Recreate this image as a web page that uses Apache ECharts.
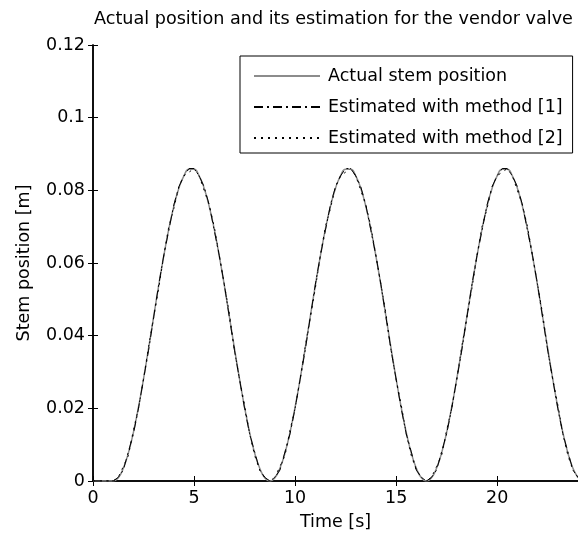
<!DOCTYPE html>
<html lang="en">
<head>
    <meta charset="UTF-8">
    <title>Vendor valve</title>
    <script src="https://cdn.jsdelivr.net/npm/echarts@6/dist/echarts.min.js"></script>
</head>
<body style="margin: 0;background: #fff">
<div id="chart" style="width: 578px;height: 537px"></div>
</body>

<script>
    // time axis, 0.25 s steps
    let time = [];
    for (let i = 0; i <= 96; i++) time.push(i * 0.25);

    // actual stem position [m]
    let actual = [
        0, 0, 0, 0,
        0, 0.0009, 0.0035, 0.0077, 0.0134, 0.0203, 0.0281, 0.0365, 0.0452, 0.0538, 0.0619, 0.0693, 0.0756, 0.0806, 0.0840, 0.0858,
        0.0858, 0.0840, 0.0806, 0.0756, 0.0693, 0.0619, 0.0538, 0.0452, 0.0365, 0.0281, 0.0203, 0.0134, 0.0077, 0.0035, 0.0009,
        0, 0.0009, 0.0035, 0.0077, 0.0134, 0.0203, 0.0281, 0.0365, 0.0452, 0.0538, 0.0619, 0.0693, 0.0756, 0.0806, 0.0840, 0.0858,
        0.0858, 0.0840, 0.0806, 0.0756, 0.0693, 0.0619, 0.0538, 0.0452, 0.0365, 0.0281, 0.0203, 0.0134, 0.0077, 0.0035, 0.0009,
        0, 0.0009, 0.0035, 0.0077, 0.0134, 0.0203, 0.0281, 0.0365, 0.0452, 0.0538, 0.0619, 0.0693, 0.0756, 0.0806, 0.0840, 0.0858,
        0.0858, 0.0840, 0.0806, 0.0756, 0.0693, 0.0619, 0.0538, 0.0452, 0.0365, 0.0281, 0.0203, 0.0134, 0.0077, 0.0035, 0.0009
    ];

    let method1 = [
        0, 0, 0, 0,
        0, 0.001, 0.003, 0.008, 0.013, 0.020, 0.028, 0.036, 0.045, 0.054, 0.062, 0.069, 0.076, 0.081, 0.084, 0.086,
        0.086, 0.084, 0.081, 0.076, 0.069, 0.062, 0.054, 0.045, 0.036, 0.028, 0.020, 0.013, 0.008, 0.003, 0.001,
        0, 0.001, 0.003, 0.008, 0.013, 0.020, 0.028, 0.036, 0.045, 0.054, 0.062, 0.069, 0.076, 0.081, 0.084, 0.086,
        0.086, 0.084, 0.081, 0.076, 0.069, 0.062, 0.054, 0.045, 0.036, 0.028, 0.020, 0.013, 0.008, 0.003, 0.001,
        0, 0.001, 0.003, 0.008, 0.013, 0.020, 0.028, 0.036, 0.045, 0.054, 0.062, 0.069, 0.076, 0.081, 0.084, 0.086,
        0.086, 0.084, 0.081, 0.076, 0.069, 0.062, 0.054, 0.045, 0.036, 0.028, 0.020, 0.013, 0.008, 0.003, 0.001
    ];

    let method2 = [
        0, 0, 0, 0,
        0, 0.001, 0.004, 0.007, 0.014, 0.020, 0.028, 0.037, 0.045, 0.053, 0.062, 0.070, 0.075, 0.081, 0.084, 0.085,
        0.086, 0.084, 0.080, 0.076, 0.070, 0.062, 0.054, 0.046, 0.036, 0.028, 0.021, 0.013, 0.007, 0.003, 0.001,
        0, 0.001, 0.004, 0.007, 0.014, 0.020, 0.028, 0.037, 0.045, 0.053, 0.062, 0.070, 0.075, 0.081, 0.084, 0.085,
        0.086, 0.084, 0.080, 0.076, 0.070, 0.062, 0.054, 0.046, 0.036, 0.028, 0.021, 0.013, 0.007, 0.003, 0.001,
        0, 0.001, 0.004, 0.007, 0.014, 0.020, 0.028, 0.037, 0.045, 0.053, 0.062, 0.070, 0.075, 0.081, 0.084, 0.085,
        0.086, 0.084, 0.080, 0.076, 0.070, 0.062, 0.054, 0.046, 0.036, 0.028, 0.021, 0.013, 0.007, 0.003, 0.001
    ];

    let seriesNames = ['Actual stem position', 'Estimated with method [1]', 'Estimated with method [2]'];

    function pairs(ys) {
        return ys.map((y, i) => [time[i], y]);
    }

    let font = 'DejaVu Sans';
    let chart = echarts.init(document.getElementById('chart'));

    let option = {
        backgroundColor: '#fff',
        animation: false,
        textStyle: {fontFamily: font},
        title: {
            text: 'Actual position and its estimation for the vendor valve',
            left: 94,
            top: 10,
            padding: 0,
            textStyle: {fontFamily: font, fontSize: 17.6, fontWeight: 'normal', color: '#000'}
        },
        grid: {left: 93, right: 0, top: 45, bottom: 56, containLabel: false},
        legend: {
            left: 240,
            top: 56,
            orient: 'vertical',
            backgroundColor: '#fff',
            borderColor: '#000',
            borderWidth: 1,
            borderRadius: 0,
            padding: [11, 10, 6, 13],
            itemWidth: 66,
            itemHeight: 14,
            itemGap: 13,
            itemStyle: {opacity: 0},
            textStyle: {fontFamily: font, fontSize: 17.5, color: '#000', padding: [0, 0, 0, 3]},
            data: seriesNames
        },
        xAxis: [{
            type: 'value',
            min: 0, max: 24, interval: 5,
            name: 'Time [s]',
            nameLocation: 'middle',
            nameGap: 32,
            nameTextStyle: {fontFamily: font, fontSize: 17.5, color: '#000'},
            axisLine: {lineStyle: {color: '#000', width: 1.5}},
            axisTick: {inside: true, length: 5, lineStyle: {color: '#000'}},
            axisLabel: {fontFamily: font, fontSize: 17.5, color: '#000', margin: 8, showMaxLabel: false},
            splitLine: {show: false}
        }, {
            type: 'value', position: 'top',
            min: 0, max: 24, interval: 5,
            axisLine: {lineStyle: {color: '#000', width: 1.5}},
            axisTick: {inside: true, length: 5, lineStyle: {color: '#000'}},
            axisLabel: {show: false},
            splitLine: {show: false}
        }],
        yAxis: [{
            type: 'value',
            min: 0, max: 0.12, interval: 0.02,
            name: 'Stem position [m]',
            nameLocation: 'middle',
            nameRotate: 90,
            nameGap: 60,
            nameTextStyle: {fontFamily: font, fontSize: 17.5, color: '#000'},
            axisLine: {show: true, lineStyle: {color: '#000', width: 1.5}},
            axisTick: {show: true, inside: true, length: 5, lineStyle: {color: '#000'}},
            axisLabel: {fontFamily: font, fontSize: 17.5, color: '#000', margin: 8},
            splitLine: {show: false}
        }, {
            type: 'value', position: 'right',
            min: 0, max: 0.12, interval: 0.02,
            axisLine: {show: true, lineStyle: {color: '#000', width: 1.5}},
            axisTick: {show: true, inside: true, length: 5, lineStyle: {color: '#000'}},
            axisLabel: {show: false},
            splitLine: {show: false}
        }],
        series: [
            {
                name: seriesNames[0], type: 'line', data: pairs(actual),
                showSymbol: false, symbol: 'none', smooth: true,
                lineStyle: {color: '#8c8c8c', width: 1.5}, itemStyle: {color: '#8c8c8c'}
            },
            {
                name: seriesNames[1], type: 'line', data: pairs(method1),
                showSymbol: false, symbol: 'none',
                lineStyle: {color: '#000', width: 1, type: [9, 4, 2, 4]}, itemStyle: {color: '#000'}
            },
            {
                name: seriesNames[2], type: 'line', data: pairs(method2),
                showSymbol: false, symbol: 'none',
                lineStyle: {color: '#000', width: 1, type: [2, 5]}, itemStyle: {color: '#000'}
            }
        ]
    };
    chart.setOption(option);
</script>
</html>
